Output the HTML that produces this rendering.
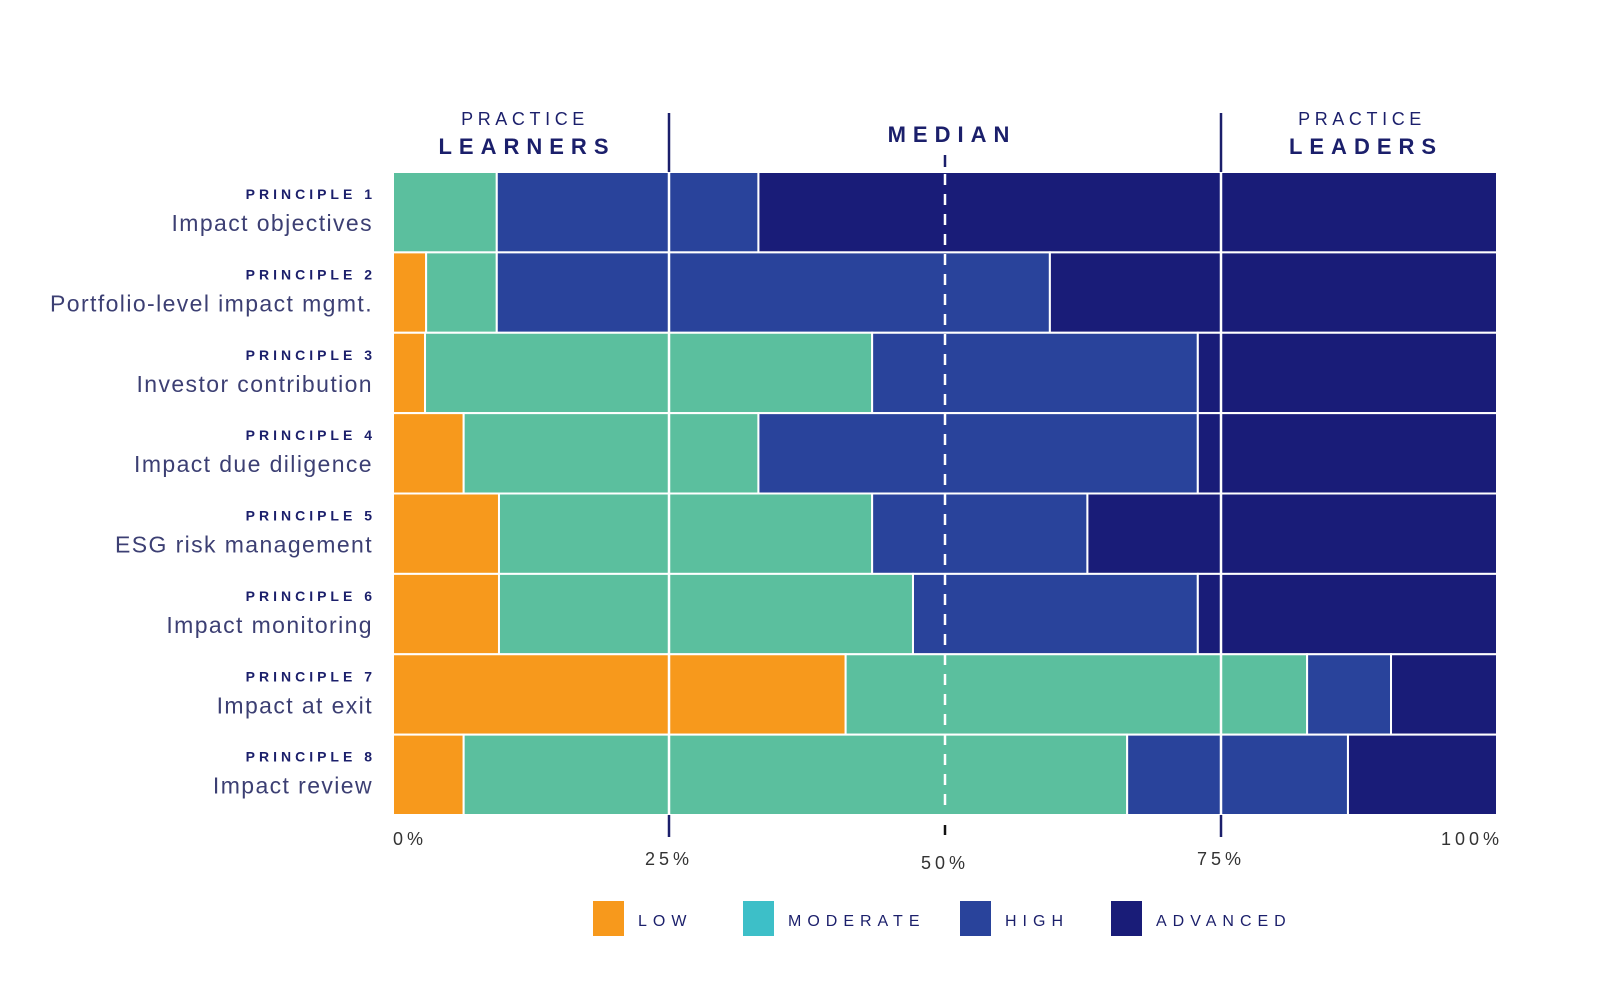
<!DOCTYPE html>
<html><head><meta charset="utf-8"><style>
html,body{margin:0;padding:0;background:#fff;}
svg{display:block;font-family:"Liberation Sans",sans-serif;}
</style></head><body>
<svg id="chart" width="1600" height="995" viewBox="0 0 1600 995"></svg>
<script>
const categories=["Impact objectives","Portfolio-level impact mgmt.","Investor contribution","Impact due diligence","ESG risk management","Impact monitoring","Impact at exit","Impact review"];
const principleLabels=["PRINCIPLE 1","PRINCIPLE 2","PRINCIPLE 3","PRINCIPLE 4","PRINCIPLE 5","PRINCIPLE 6","PRINCIPLE 7","PRINCIPLE 8"];
const lowVals=[0,3.0,2.9,6.4,9.6,9.6,41.0,6.4];
const moderateVals=[9.4,6.4,40.5,26.7,33.8,37.5,41.8,60.1];
const highVals=[23.7,50.1,29.5,39.8,19.5,25.8,7.6,20.0];
const advancedVals=[66.9,40.5,27.1,27.1,37.1,27.1,9.6,13.5];
const seriesNames=["LOW","MODERATE","HIGH","ADVANCED"];
const xTicks=[0,25,50,75,100];
const xTickLabels=["0%","25%","50%","75%","100%"];

const NS="http://www.w3.org/2000/svg";
const svg=document.getElementById('chart');
function mk(tag,attrs,parent){const e=document.createElementNS(NS,tag);for(const k in attrs)e.setAttribute(k,attrs[k]);(parent||svg).appendChild(e);return e;}
const X0=393,X1=1497,Y0=172,Y1=815;
const x=v=>X0+(X1-X0)*v/100;
const rowH=(Y1-Y0)/categories.length;
const y=i=>Y0+i*rowH;
const colors=["#f7991c","#5bbf9e","#29439b","#191c78"];
const legendColors=["#f7991c","#3dbfc8","#29439b","#191c78"];
const series=[lowVals,moderateVals,highVals,advancedVals];
const DARK="#1b1f6b";

categories.forEach((c,i)=>{
  let acc=0;
  series.forEach((s,k)=>{
    const v=s[i];
    if(v>0){
      const r=mk('rect',{x:x(acc),y:y(i),width:x(acc+v)-x(acc),height:rowH,fill:colors[k],stroke:"#fff","stroke-width":2});
      
      
    }
    acc+=v;
  });
  const t1=mk('text',{x:376,y:y(i)+27,"text-anchor":"end","font-size":14,"font-weight":"bold","letter-spacing":"4",fill:DARK});
  t1.textContent=principleLabels[i];
  
  
  const t2=mk('text',{x:373,y:y(i)+59,"text-anchor":"end","font-size":23,"letter-spacing":"1.4",fill:"#3c3f73"});
  t2.textContent=c;
  
  
});
[25,75].forEach(v=>{
  const l=mk('line',{x1:x(v),x2:x(v),y1:Y0,y2:Y1,stroke:"#fff","stroke-width":2.5});
  
  
  const a=mk('line',{x1:x(v),x2:x(v),y1:113,y2:Y0,stroke:DARK,"stroke-width":2.5});
  
  
  const b=mk('line',{x1:x(v),x2:x(v),y1:Y1,y2:837,stroke:DARK,"stroke-width":2.5});
  
  
});
const med=mk('line',{x1:x(50),x2:x(50),y1:Y0+2,y2:Y1,stroke:"#fff","stroke-width":2.5,"stroke-dasharray":"11 9"});


const medTop=mk('line',{x1:x(50),x2:x(50),y1:155,y2:167,stroke:DARK,"stroke-width":2.5});


const medBot=mk('line',{x1:x(50),x2:x(50),y1:825,y2:835,stroke:"#111","stroke-width":2.5});


xTicks.forEach((v,i)=>{
  let ty=(v===25||v===75)?865:(v===50?869:845);
  let anchor=v===0?"start":(v===100?"end":"middle");
  const t=mk('text',{x:x(v)+(v===100?6:0),y:ty,"text-anchor":anchor,"font-size":18,"letter-spacing":"4",fill:"#333"});
  t.textContent=xTickLabels[i];
  
  
});
function hdr(txt,cx,cy,size,weight,ls,name){const t=mk('text',{x:cx,y:cy,"text-anchor":"middle","font-size":size,"font-weight":weight,"letter-spacing":ls,fill:DARK});t.textContent=txt;}
hdr("PRACTICE",525,125,18,"normal","4.6","header-practice-learners-top");
hdr("LEARNERS",527,154,22,"bold","7","header-learners");
hdr("MEDIAN",952,142,22,"bold","7","header-median");
hdr("PRACTICE",1362,125,18,"normal","4.6","header-practice-leaders-top");
hdr("LEADERS",1366,154,22,"bold","7","header-leaders");
const legX=[593,743,960,1111];
seriesNames.forEach((n,k)=>{
  const g=mk('g',{});
  
  
  mk('rect',{x:legX[k],y:901,width:31,height:35,fill:legendColors[k]},g);
  const t=mk('text',{x:legX[k]+45,y:926,"font-size":16,"letter-spacing":"6",fill:DARK},g);
  t.textContent=n;
});
</script>
</body></html>
